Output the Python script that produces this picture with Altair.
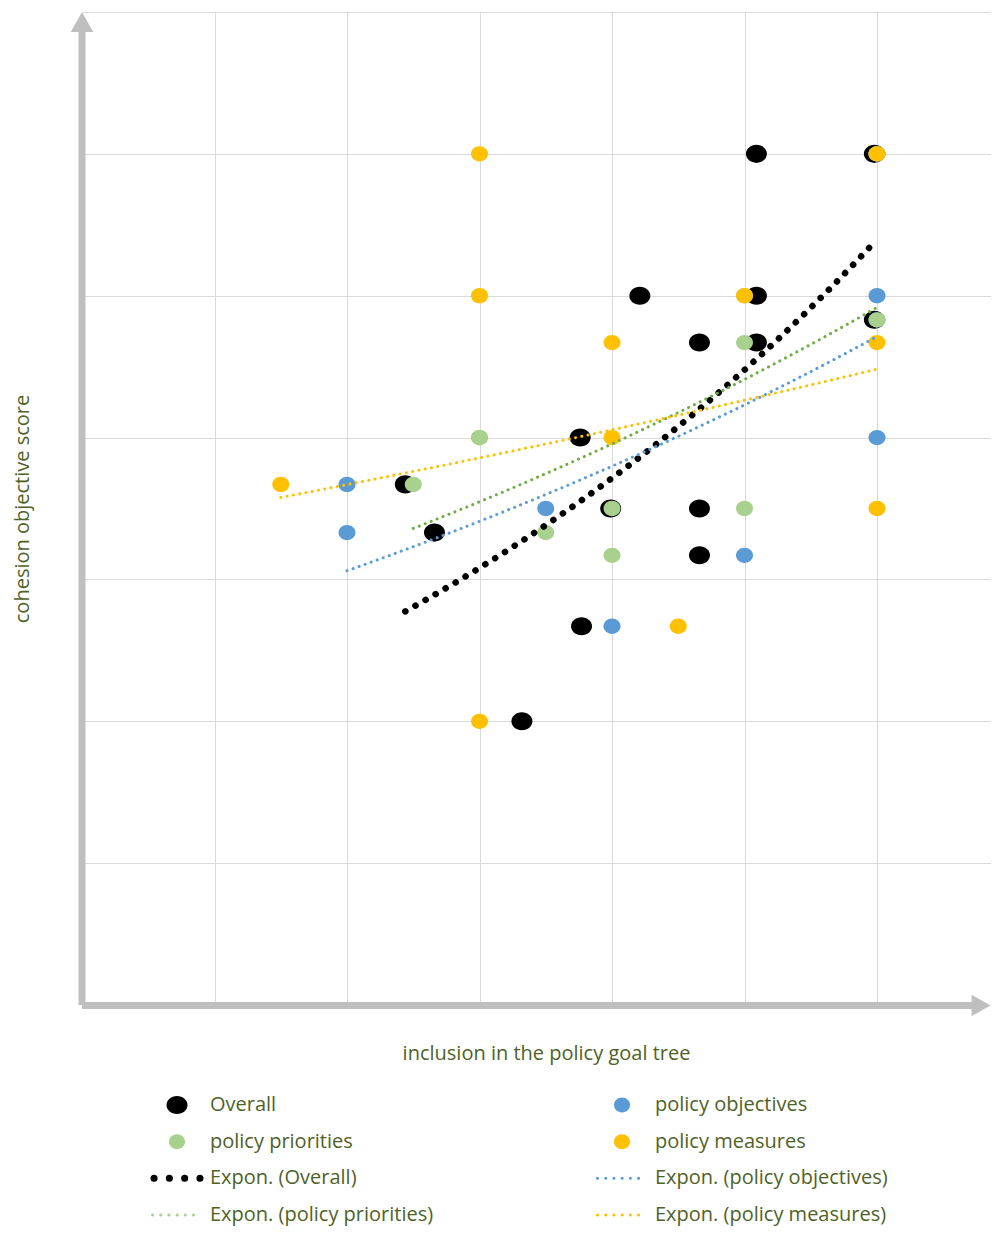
import numpy as np
import pandas as pd
import altair as alt

# ---------------- data ----------------
overall_x = [5.09, 5.98, 4.21, 5.09, 5.98, 4.66, 5.09, 3.76, 2.44, 2.66, 3.99, 4.66, 4.66, 3.77, 3.32]
overall_y = [6.0, 6.0, 5.0, 5.0, 4.83, 4.67, 4.67, 4.0, 3.67, 3.33, 3.5, 3.5, 3.17, 2.67, 2.0]

objectives_x = [6, 6, 6, 6, 6, 2, 2, 3.5, 5, 4]
objectives_y = [6, 6, 5, 4.83, 4, 3.67, 3.33, 3.5, 3.17, 2.67]

priorities_x = [6, 5, 6, 5, 3, 3, 2.5, 4, 5, 3.5, 4]
priorities_y = [6, 5, 4.83, 4.67, 4, 4, 3.67, 3.5, 3.5, 3.33, 3.17]

measures_x = [3, 6, 3, 5, 4, 6, 4, 1.5, 6, 4.5, 3]
measures_y = [6, 6, 5, 5, 4.67, 4.67, 4, 3.67, 3.5, 2.67, 2]

series_names = ["Overall", "policy objectives", "policy priorities", "policy measures"]
legend_labels = ["Overall", "policy objectives", "policy priorities", "policy measures",
                 "Expon. (Overall)", "Expon. (policy objectives)",
                 "Expon. (policy priorities)", "Expon. (policy measures)"]

x_grid = [1, 2, 3, 4, 5, 6]
y_grid = [1, 2, 3, 4, 5, 6, 7]

# ---------------- styles ----------------
FONT = "Open Sans"
TXT = "#4f6228"
GRID = "#d9d9d9"
AXISC = "#bfbfbf"
C_OVR = "#000000"
C_OBJ = "#5b9bd5"
C_PRI = "#a9d18e"
C_PRI_LINE = "#70ad47"
C_MEA = "#ffc000"

W, H = 909, 993
X_MAX = W / 132.5
ELL_BIG = "M-1,0A1,0.86 0 1,1 1,0A1,0.86 0 1,1 -1,0Z"
ELL_SMALL = "M-1,0A1,0.9 0 1,1 1,0A1,0.9 0 1,1 -1,0Z"
HLINE = "M-1,0L1,0"


def exp_trend(xs, ys, n=80):
    """Excel-style exponential trend line: least squares of ln(y) on x."""
    x = np.asarray(xs, float)
    y = np.asarray(ys, float)
    b, a = np.polyfit(x, np.log(y), 1)
    xx = np.linspace(x.min(), x.max(), n)
    return pd.DataFrame({"x": xx, "y": np.exp(a + b * xx)})


X = alt.X("x:Q", scale=alt.Scale(domain=[0, X_MAX], nice=False, zero=False),
          axis=alt.Axis(values=x_grid, grid=True, labels=False, ticks=False, domain=False,
                        title="inclusion in the policy goal tree", titlePadding=38,
                        titleX=464))
Y = alt.Y("y:Q", scale=alt.Scale(domain=[0, 7], nice=False, zero=False),
          axis=alt.Axis(values=y_grid, grid=True, labels=False, ticks=False, domain=False,
                        title="cohesion objective score", titlePadding=50))


def points(xs, ys, color, shape, size):
    df = pd.DataFrame({"x": xs, "y": ys})
    return alt.Chart(df).mark_point(filled=True, shape=shape, size=size, color=color,
                                    opacity=1, strokeWidth=0).encode(x=X, y=Y)


def trend(xs, ys, color, width, dash):
    return alt.Chart(exp_trend(xs, ys)).mark_line(
        color=color, strokeWidth=width, strokeDash=dash, strokeCap="round"
    ).encode(x=X, y=Y)


one = pd.DataFrame({"k": [0]})
y_shaft = alt.Chart(one).mark_rule(color=AXISC, strokeWidth=7).encode(
    x=alt.value(0), y=alt.value(H), y2=alt.value(20))
x_shaft = alt.Chart(one).mark_rule(color=AXISC, strokeWidth=7).encode(
    x=alt.value(0), x2=alt.value(W - 15), y=alt.value(H + 0.5))
y_head = alt.Chart(one).mark_point(shape="M0,0L-1,1.77L1,1.77Z", size=511, filled=True,
                                   color=AXISC, opacity=1, strokeWidth=0).encode(
    x=alt.value(0), y=alt.value(0))
x_head = alt.Chart(one).mark_point(shape="M0,0L-1.77,-1L-1.77,1Z", size=458, filled=True,
                                   color=AXISC, opacity=1, strokeWidth=0).encode(
    x=alt.value(W - 0.5), y=alt.value(H + 0.5))

main = alt.layer(
    points(overall_x, overall_y, C_OVR, ELL_BIG, 441),
    points(objectives_x, objectives_y, C_OBJ, ELL_SMALL, 289),
    points(priorities_x, priorities_y, C_PRI, ELL_SMALL, 289),
    points(measures_x, measures_y, C_MEA, ELL_SMALL, 289),
    trend(overall_x, overall_y, C_OVR, 6.5, [0.1, 11.5]),
    trend(objectives_x, objectives_y, C_OBJ, 3, [0.1, 6.3]),
    trend(priorities_x, priorities_y, C_PRI_LINE, 3, [0.1, 6.3]),
    trend(measures_x, measures_y, C_MEA, 3, [0.1, 6.3]),
    y_shaft, x_shaft, y_head, x_head,
).properties(width=W, height=H)

# ---------------- legend ----------------
legend_df = pd.DataFrame({
    "label": legend_labels,
    "col": [i % 2 for i in range(len(legend_labels))],
    "row": [i // 2 for i in range(len(legend_labels))],
})
LX = alt.X("col:Q", scale=alt.Scale(domain=[0, 1], range=[95, 540]), axis=None)
LY = alt.Y("row:Q", scale=alt.Scale(domain=[0, 3], range=[10, 120]), axis=None)
base = alt.Chart(legend_df).encode(x=LX, y=LY)

leg_text = base.mark_text(align="left", baseline="middle", dx=33, font=FONT,
                          fontSize=20, color=TXT).encode(text="label:N")
leg_overall = base.transform_filter(alt.datum.label == "Overall").mark_point(
    filled=True, shape=ELL_BIG, size=441, color=C_OVR, opacity=1, strokeWidth=0)
leg_dots = base.transform_filter(
    alt.FieldOneOfPredicate(field="label", oneOf=series_names[1:])
).mark_point(filled=True, shape="M-1,0A1,0.93 0 1,1 1,0A1,0.93 0 1,1 -1,0Z", size=256,
             opacity=1, strokeWidth=0).encode(
    color=alt.Color("label:N", scale=alt.Scale(domain=series_names[1:],
                                               range=[C_OBJ, C_PRI, C_MEA]), legend=None))
leg_black = base.transform_filter(alt.datum.label == "Expon. (Overall)").mark_point(
    filled=False, shape=HLINE, size=2116, color=C_OVR, opacity=1, strokeWidth=7,
    strokeDash=[0.1, 15.2], strokeCap="round")
leg_lines = base.transform_filter(
    alt.FieldOneOfPredicate(field="label", oneOf=legend_labels[5:])
).mark_point(filled=False, shape=HLINE, size=2401, opacity=1, strokeWidth=3,
             strokeDash=[0.1, 8.1], strokeCap="round").encode(
    color=alt.Color("label:N", scale=alt.Scale(domain=legend_labels[5:],
                                               range=[C_OBJ, C_PRI_LINE, C_MEA]), legend=None))

legend = alt.layer(leg_text, leg_overall, leg_dots, leg_black, leg_lines).properties(
    width=W, height=130)

chart = alt.vconcat(main, legend, spacing=32).properties(
    padding={"left": 4, "top": 4, "right": 0, "bottom": 5}
).configure_view(stroke=None).configure_axis(
    gridColor=GRID, gridWidth=1, titleFont=FONT, titleFontSize=20,
    titleColor=TXT, titleFontWeight="normal"
).resolve_scale(color="independent")

chart.save("out.html", embed_options={"renderer": "svg", "actions": False})
